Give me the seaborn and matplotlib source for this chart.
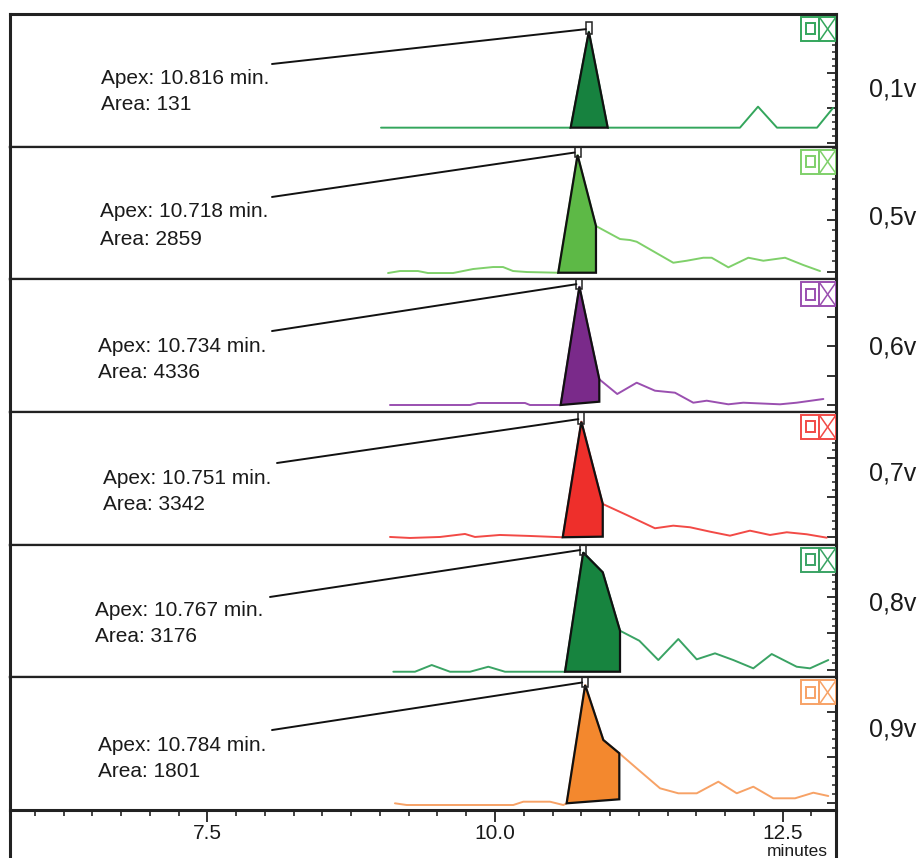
import numpy as np
import matplotlib
matplotlib.use("Agg")
import matplotlib.pyplot as plt
import seaborn as sns
from matplotlib.patches import Rectangle, Polygon
from matplotlib.lines import Line2D
from matplotlib.ticker import FixedLocator, MultipleLocator
from matplotlib import font_manager

# ---------------- data ----------------
labels = ["0,1v", "0,5v", "0,6v", "0,7v", "0,8v", "0,9v"]
apex_min = [10.816, 10.718, 10.734, 10.751, 10.767, 10.784]
areas = [131, 2859, 4336, 3342, 3176, 1801]

t_01 = [9.009, 10.658, 10.816, 10.980, 12.130, 12.287, 12.452, 12.800, 12.939]
s_01 = [19, 19, 115, 19, 19, 40, 19, 19, 38.7]

t_05 = [9.070, 9.174, 9.330, 9.417, 9.635, 9.809, 9.983, 10.070, 10.157, 10.278, 10.550,
        10.718, 10.878, 11.087, 11.174, 11.232, 11.550, 11.667, 11.811, 11.884, 12.029,
        12.203, 12.333, 12.522, 12.681, 12.826]
s_05 = [6.3, 8.3, 8.3, 6.3, 6.3, 10.3, 12.3, 12.3, 8.3, 7.3, 6.6,
        124.3, 53.3, 40.3, 39.3, 37.6, 16.6, 18.6, 21.6, 21.6, 12,
        21.6, 18.6, 21.6, 14.3, 8.3]

t_06 = [9.087, 9.783, 9.852, 10.261, 10.304, 10.571, 10.734, 10.907, 11.063, 11.232,
        11.391, 11.565, 11.724, 11.841, 12.029, 12.159, 12.478, 12.623, 12.855]
s_06 = [7, 7, 9, 9, 7, 7, 125.3, 32.7, 18, 29.3,
        21.3, 19.3, 9.3, 11.3, 7.7, 9.3, 7.7, 9.3, 13]

t_07 = [9.087, 9.261, 9.522, 9.739, 9.826, 10.043, 10.304, 10.589, 10.751, 10.937,
        11.145, 11.391, 11.550, 11.696, 11.870, 12.043, 12.217, 12.391, 12.537, 12.710, 12.884]
s_07 = [7.7, 6.7, 7.7, 10.7, 7.7, 9.7, 8.7, 7.4, 123, 40.7,
        29.7, 16.4, 19, 17.4, 13, 9, 14, 9.7, 12.4, 10.4, 7]

t_08 = [9.116, 9.304, 9.450, 9.609, 9.783, 9.942, 10.087, 10.609, 10.767, 10.937,
        11.087, 11.255, 11.420, 11.594, 11.754, 11.913, 12.072, 12.246, 12.406, 12.623,
        12.739, 12.898]
s_08 = [5.6, 5.6, 12.3, 5.6, 5.6, 10.6, 5.6, 5.6, 124.8, 105,
        46.6, 36.6, 17.3, 38.3, 18, 24, 17.3, 9, 23.3, 10.6,
        9, 17.3]

t_09 = [9.130, 9.232, 10.159, 10.246, 10.478, 10.594, 10.623, 10.784, 10.942, 11.081,
        11.232, 11.435, 11.594, 11.754, 11.942, 12.102, 12.246, 12.420, 12.609, 12.768, 12.898]
s_09 = [6.7, 5, 5, 8.3, 8.3, 5, 6.7, 125, 70, 56.7,
        41.7, 21.7, 16.7, 16.7, 28.3, 16.7, 23.3, 11.7, 11.7, 17.3, 14]

times = [t_01, t_05, t_06, t_07, t_08, t_09]
signals = [s_01, s_05, s_06, s_07, s_08, s_09]
# integrated peak: start/end time and baseline level at each end
peak_start = [10.658, 10.550, 10.571, 10.589, 10.609, 10.623]
peak_end = [10.980, 10.878, 10.907, 10.937, 11.087, 11.081]
base_start = [19, 6.6, 7, 7.4, 5.6, 6.7]
base_end = [19, 6.6, 10.3, 8, 5.6, 10.7]

x_ticks = [7.5, 10.0, 12.5]
x_ticklabels = ["7.5", "10.0", "12.5"]

# ---------------- styles ----------------
fill_colors = ["#17823f", "#5db946", "#7a2a8a", "#ee2f2b", "#17843f", "#f3882e"]
line_colors = ["#34a65c", "#7fd06a", "#9a4fb0", "#f24a46", "#3aa364", "#f7a266"]
ytick_base = [3.4, 7.6, 7.0, 8.0, 7.3, 6.7]
ytick_step = [35, 51.7, 29.4, 39.2, 36.7, 45.8]
ytick_minor = [True, True, False, True, True, True]

# text layout (pixels, measured)
txt_left_px = [101, 100, 98, 103, 95, 98]
txt_apex_rel = [64, 65.3, 66.7, 66, 66.3, 67.7]
txt_area_rel = [90, 93.3, 92.7, 93, 92.3, 93.7]
lead_x_px = [272, 272, 272, 277, 270, 272]
lead_y_rel = [50, 50.3, 51.7, 51, 52.3, 52.7]
right_label_y = [90, 218, 347, 473, 603, 730]

sns.set_theme(style="white")
names = set(f.name for f in font_manager.fontManager.ttflist)
narrow = "Liberation Sans Narrow" if "Liberation Sans Narrow" in names else "Liberation Sans"
plt.rcParams["font.family"] = ["Liberation Sans", "DejaVu Sans"]

W, H = 922, 858
fig = plt.figure(figsize=(W / 100, H / 100), dpi=100)
L, R, T, B = 10, 836, 14, 810
ph = (B - T) / 6.0
axes = []
for i in range(6):
    top = T + i * ph
    ax = fig.add_axes([L / W, 1 - (top + ph) / H, (R - L) / W, ph / H])
    axes.append(ax)

XMIN, XMAX = 5.783, 12.965
for i, ax in enumerate(axes):
    t = np.array(times[i]); s = np.array(signals[i])
    sns.lineplot(x=t, y=s, ax=ax, color=line_colors[i], lw=1.4, sort=False,
                 estimator=None, zorder=2)
    m = (t >= peak_start[i] - 1e-9) & (t <= peak_end[i] + 1e-9)
    pts = list(zip(t[m], s[m])) + [(peak_end[i], base_end[i]), (peak_start[i], base_start[i])]
    ax.add_patch(Polygon(pts, closed=True, facecolor=fill_colors[i], edgecolor="#111111",
                         lw=1.6, zorder=3, joinstyle="miter"))
    apex_y = s[np.argmin(np.abs(t - apex_min[i]))]
    # apex marker box
    ax.add_patch(Rectangle((apex_min[i] - 0.026, apex_y - 2), 0.052, 12, facecolor="none",
                           edgecolor="#222222", lw=1.1, zorder=4, clip_on=True))
    # leader line
    xt = (lead_x_px[i] - L) / (R - L)
    yt = 1 - lead_y_rel[i] / ph
    ax.annotate("", xy=(apex_min[i] - 0.026, apex_y + 2.5), xycoords="data",
                xytext=(xt, yt), textcoords="axes fraction",
                arrowprops=dict(arrowstyle="-", color="#111111", lw=1.4,
                                shrinkA=0, shrinkB=0), zorder=4)
    tx = (txt_left_px[i] - L) / (R - L)
    ax.text(tx, 1 - txt_apex_rel[i] / ph, f"Apex: {apex_min[i]:.3f} min.", transform=ax.transAxes,
            ha="left", va="center", fontsize=15, color="#1a1a1a")
    ax.text(tx, 1 - txt_area_rel[i] / ph, f"Area: {areas[i]}", transform=ax.transAxes,
            ha="left", va="center", fontsize=15, color="#1a1a1a")

    # icons top right
    x0 = (801 - L) / (R - L); xd = (819.3 - L) / (R - L); x1 = 1.0
    y0 = 1 - 27 / ph; y1 = 1 - 3 / ph
    ax.add_patch(Rectangle((x0, y0), x1 - x0, y1 - y0, transform=ax.transAxes,
                           facecolor="white", edgecolor=line_colors[i], lw=1.4, zorder=5))
    ax.plot([xd, xd], [y0, y1], transform=ax.transAxes, color=line_colors[i], lw=1.4, zorder=6)
    sx0 = (805.7 - L) / (R - L); sx1 = (815 - L) / (R - L)
    sy0 = 1 - 20.3 / ph; sy1 = 1 - 9.3 / ph
    ax.add_patch(Rectangle((sx0, sy0), sx1 - sx0, sy1 - sy0, transform=ax.transAxes,
                           facecolor="none", edgecolor=line_colors[i], lw=1.4, zorder=6))
    ax.plot([xd, x1], [y0, y1], transform=ax.transAxes, color=line_colors[i], lw=1.1, zorder=6)
    ax.plot([xd, x1], [y1, y0], transform=ax.transAxes, color=line_colors[i], lw=1.1, zorder=6)

    ax.set_xlim(XMIN, XMAX)
    ax.set_ylim(0, ph)
    ax.set_xlabel(""); ax.set_ylabel("")
    # right-side ticks
    ax.yaxis.tick_right()
    ax.yaxis.set_major_locator(FixedLocator(list(np.arange(ytick_base[i], ph, ytick_step[i]))))
    if ytick_minor[i]:
        ax.yaxis.set_minor_locator(FixedLocator(list(np.arange(ytick_base[i], ph, ytick_step[i] / 5))))
    ax.tick_params(axis="y", which="major", direction="in", length=6.5, width=1.3,
                   color="#222222", labelright=False, right=True, left=False)
    ax.tick_params(axis="y", which="minor", direction="in", length=3.2, width=1.1,
                   color="#222222", right=True, left=False)
    for sp in ax.spines.values():
        sp.set_color("#222222"); sp.set_linewidth(1.6)
    ax.spines["left"].set_linewidth(2.2)
    ax.spines["right"].set_linewidth(2.2)
    if i == 0:
        ax.spines["top"].set_linewidth(2.2)
    if i < 5:
        ax.tick_params(axis="x", which="both", bottom=False, labelbottom=False)

axb = axes[-1]
axb.xaxis.set_major_locator(FixedLocator(x_ticks))
axb.set_xticklabels(x_ticklabels)
axb.xaxis.set_minor_locator(MultipleLocator(0.25))
axb.tick_params(axis="x", which="major", direction="out", length=8.5, width=1.3, color="#222222",
                pad=1.5, labelsize=15, labelcolor="#1a1a1a", bottom=True)
axb.tick_params(axis="x", which="minor", direction="out", length=4.5, width=1.2, color="#222222",
                bottom=True)
for lab in axb.get_xticklabels():
    lab.set_family([narrow, "DejaVu Sans"])
axb.spines["bottom"].set_linewidth(2.2)

# right labels
for i, lab in enumerate(labels):
    fig.text(893 / W, 1 - right_label_y[i] / H, lab, ha="center", va="center",
             fontsize=18, color="#1a1a1a")

fig.text(797 / W, 1 - 851 / H, "minutes", ha="center", va="center", fontsize=12.5,
         family=[narrow, "DejaVu Sans"], color="#1a1a1a")

# frame continuation below the axis
fig.add_artist(Line2D([L / W, L / W], [0, 1 - B / H], color="#222222", lw=2.2))
fig.add_artist(Line2D([R / W, R / W], [0, 1 - B / H], color="#222222", lw=2.2))

fig.savefig("out.png", dpi=100, facecolor="white")
